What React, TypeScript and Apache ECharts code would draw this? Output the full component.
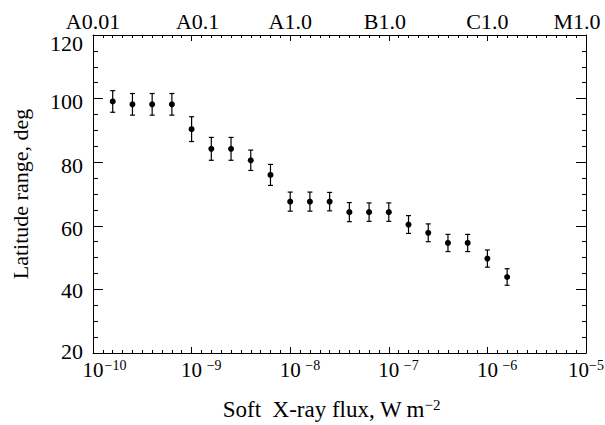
import React, { useEffect, useRef } from "react";
import * as echarts from "echarts";

// log10 of soft X-ray flux (W m^-2)
const fluxExp = [-9.8, -9.6, -9.4, -9.2, -9.0, -8.8, -8.6, -8.4, -8.2, -8.0, -7.8, -7.6, -7.4, -7.2, -7.0, -6.8, -6.6, -6.4, -6.2, -6.0, -5.8];
// latitude range, deg
const latRange = [99.1, 98.2, 98.2, 98.2, 90.4, 84.2, 84.2, 80.6, 76.0, 67.6, 67.6, 67.6, 64.3, 64.3, 64.3, 60.4, 57.8, 54.6, 54.6, 49.7, 43.9];
// error (half-length of bars), deg
const latError = [3.4, 3.4, 3.4, 3.4, 3.9, 3.6, 3.6, 3.2, 3.3, 3.0, 3.0, 2.9, 3.0, 2.9, 2.9, 2.8, 2.8, 2.7, 2.7, 2.7, 2.6];

const bottomTickExp = [-10, -9, -8, -7, -6, -5];
const topTickLabels = ["A0.01", "A0.1", "A1.0", "B1.0", "C1.0", "M1.0"];
const yTicks = [20, 40, 60, 80, 100, 120];

const FONT = "Liberation Serif";

export default function App() {
  const ref = useRef<HTMLDivElement>(null);
  useEffect(() => {
    if (!ref.current) return;
    const chart = echarts.init(ref.current, null, { renderer: "svg" });
    const points = fluxExp.map((x, i) => [x, latRange[i]]);
    const bars = fluxExp.map((x, i) => [x, latRange[i], latError[i]]);

    const base = { fontSize: 22, fontFamily: FONT, color: "#000" };
    const topRich: any = {
      n: { ...base },
      sr: { ...base, padding: [0, 0, 0, 12] },
      sl: { ...base, padding: [0, 8, 0, 0] },
      sll: { ...base, padding: [0, 18, 0, 0] },
    };
    const styleFor = (i: number) => (i === 1 ? "sr" : i === 3 ? "sl" : i === 5 ? "sll" : "n");

    // vertical nudges of the y tick labels (px, + = down), as in the reference
    const yShift = [-1.5, 1, 3, 3, 3, 8];
    const yRich: any = {};
    yShift.forEach((d, i) => {
      yRich["y" + i] = { ...base, padding: d >= 0 ? [2 * d, 0, 0, 0] : [0, 0, -2 * d, 0] };
    });

    const axisCommon = {
      type: "value" as const,
      min: -10,
      max: -5,
      interval: 1,
      splitLine: { show: false },
      axisLine: { show: true, lineStyle: { color: "#000", width: 1 } },
      axisTick: { show: true, inside: true, length: 6, lineStyle: { color: "#000", width: 1 } },
      minorTick: { show: true, splitNumber: 10, length: 3, lineStyle: { color: "#000", width: 1 } },
    };
    chart.setOption({
      animation: false,
      backgroundColor: "#fff",
      grid: { left: 93, right: 19, top: 35, bottom: 72, outerBoundsMode: "none", containLabel: false },
      xAxis: [
        {
          ...axisCommon,
          position: "bottom",
          name: "{t|Soft\u00A0\u00A0X-ray flux, W\u2009m}{e|\u22122}",
          nameLocation: "middle",
          nameGap: 44,
          nameTextStyle: {
            padding: [0, 16, 0, 0],
            rich: {
              t: { fontSize: 23, fontFamily: FONT, color: "#000", lineHeight: 24 },
              e: { fontSize: 15, fontFamily: FONT, color: "#000", verticalAlign: "top", lineHeight: 18 },
            },
          },
          axisLabel: {
            margin: 5,
            showMaxLabel: true,
            formatter: (v: number) => {
              const k = bottomTickExp.indexOf(Math.round(v));
              if (k < 0) return "";
              if (k === bottomTickExp.length - 1) return "{b|10}{f|\u2212" + -bottomTickExp[k] + "}";
              return "{h|}{b|10}{e|\u2212" + -bottomTickExp[k] + "}";
            },
            rich: {
              h: { width: 24 },
              b: { fontSize: 21, fontFamily: FONT, color: "#000", lineHeight: 24 },
              e: { fontSize: 14, fontFamily: FONT, color: "#000", width: 24, align: "left", verticalAlign: "top", lineHeight: 18 },
              f: { fontSize: 14, fontFamily: FONT, color: "#000", verticalAlign: "top", lineHeight: 18 },
            },
          },
        },
        {
          ...axisCommon,
          position: "top",
          axisLabel: {
            margin: 3,
            formatter: (v: number) => {
              const k = bottomTickExp.indexOf(Math.round(v));
              if (k < 0) return "";
              return "{" + styleFor(k) + "|" + topTickLabels[k] + "}";
            },
            rich: topRich,
          },
        },
      ],
      yAxis: [
        {
          type: "value",
          position: "left",
          min: 20,
          max: 120,
          interval: 20,
          name: "Latitude range, deg",
          nameLocation: "middle",
          nameGap: 62,
          nameTextStyle: { fontSize: 22, fontFamily: FONT, color: "#000" },
          splitLine: { show: false },
          axisLine: { show: true, lineStyle: { color: "#000", width: 1 } },
          axisTick: { show: true, inside: true, length: 10, lineStyle: { color: "#000", width: 1 } },
          minorTick: { show: true, splitNumber: 4, length: 5, lineStyle: { color: "#000", width: 1 } },
          axisLabel: {
            margin: 10,
            formatter: (v: number) => {
              const k = yTicks.indexOf(Math.round(v));
              if (k < 0) return "";
              return "{y" + k + "|" + yTicks[k] + "}";
            },
            rich: yRich,
          },
        },
        {
          type: "value",
          position: "right",
          min: 20,
          max: 120,
          interval: 20,
          splitLine: { show: false },
          axisLine: { show: true, lineStyle: { color: "#000", width: 1 } },
          axisTick: { show: true, inside: true, length: 10, lineStyle: { color: "#000", width: 1 } },
          minorTick: { show: true, splitNumber: 4, length: 4, lineStyle: { color: "#000", width: 1 } },
          axisLabel: { show: false },
        },
      ],
      series: [
        {
          type: "custom",
          xAxisIndex: 0,
          yAxisIndex: 0,
          data: bars,
          encode: { x: 0, y: 1 },
          renderItem: (params: any, api: any) => {
            const x = api.value(0);
            const y = api.value(1);
            const e = api.value(2);
            const t = api.coord([x, y + e]);
            const b = api.coord([x, y - e]);
            const w = 2.5;
            const st = { stroke: "#000", lineWidth: 1.2 };
            return {
              type: "group",
              children: [
                { type: "line", shape: { x1: t[0], y1: t[1], x2: b[0], y2: b[1] }, style: st },
                { type: "line", shape: { x1: t[0] - w, y1: t[1], x2: t[0] + w, y2: t[1] }, style: st },
                { type: "line", shape: { x1: b[0] - w, y1: b[1], x2: b[0] + w, y2: b[1] }, style: st },
              ],
            };
          },
        },
        {
          type: "scatter",
          xAxisIndex: 0,
          yAxisIndex: 0,
          data: points,
          symbol: "circle",
          symbolSize: 6,
          itemStyle: { color: "#000", opacity: 1 },
        },
      ],
    });
    return () => chart.dispose();
  }, []);
  return (
    <div
      ref={ref}
      style={{ position: "fixed", left: 0, top: 0, width: 605, height: 425, background: "#fff" }}
    />
  );
}
